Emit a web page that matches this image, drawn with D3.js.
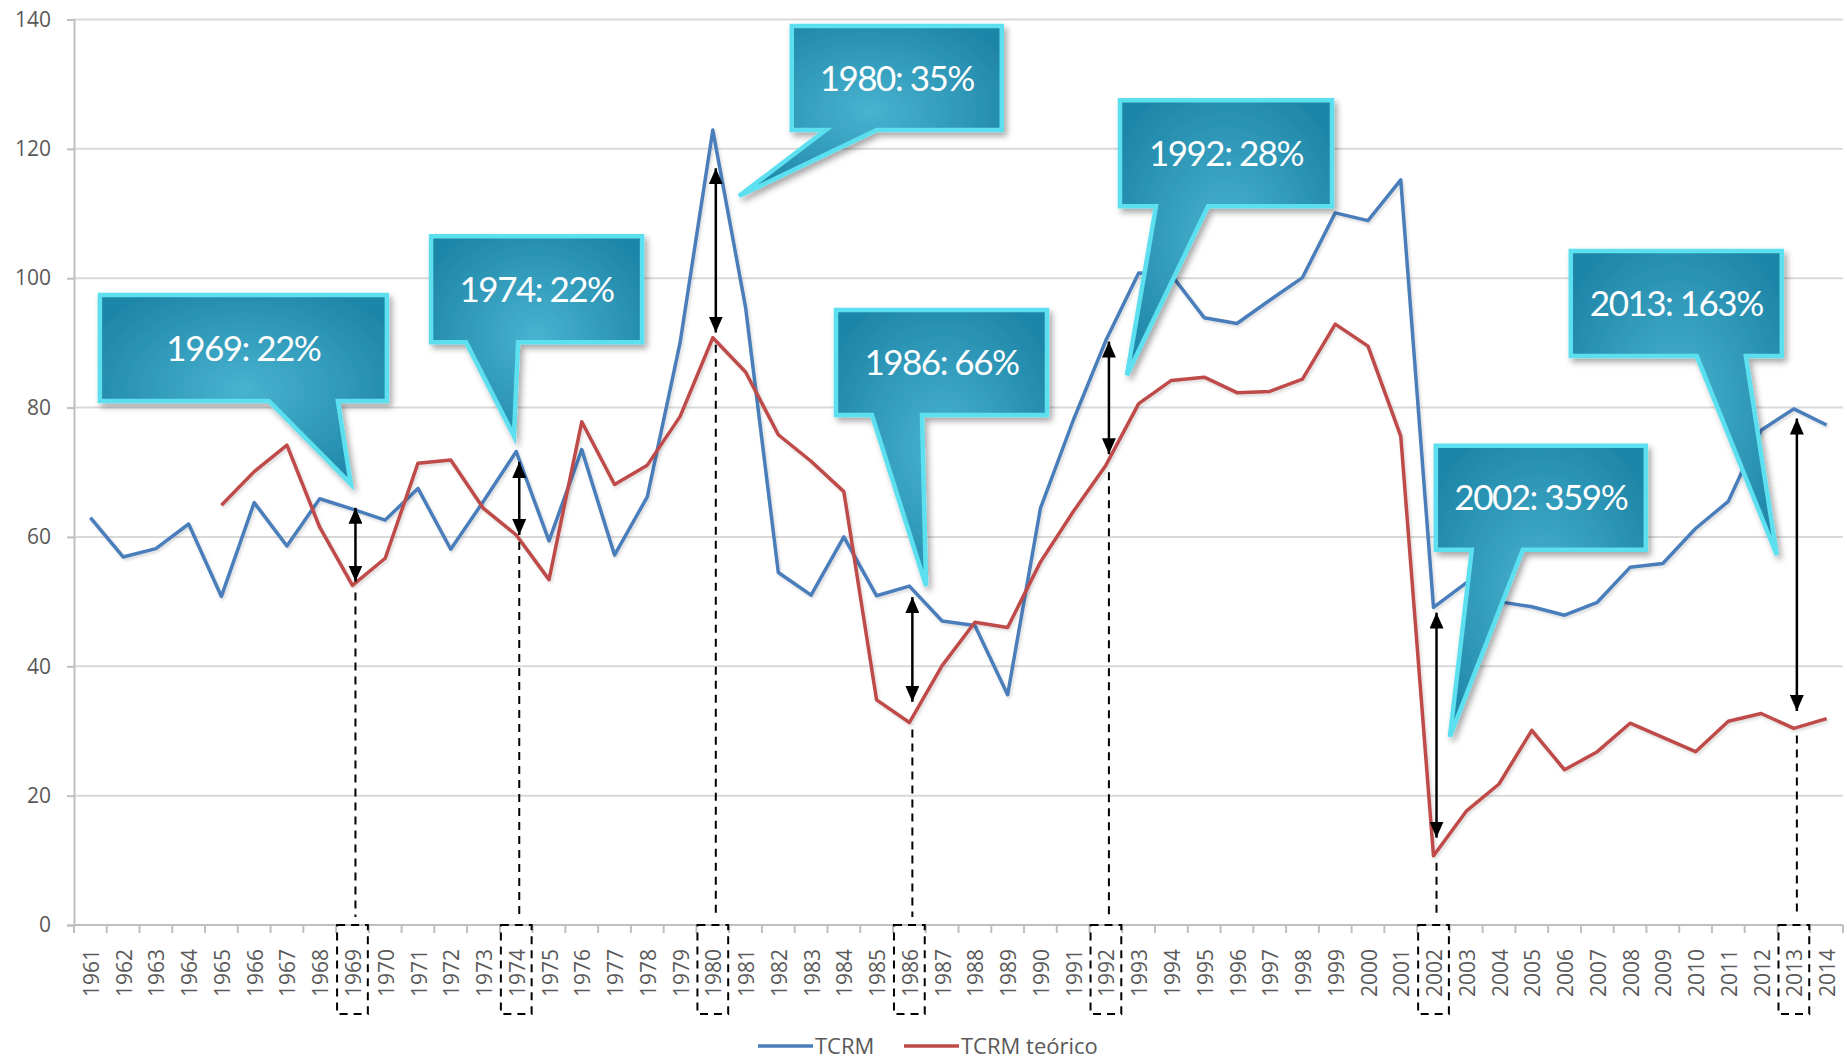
<!DOCTYPE html>
<html>
  <head>
    <meta charset="utf-8">
    <title>TCRM vs TCRM teórico</title>
    <script src="https://d3js.org/d3.v7.min.js"></script>
    <style>
      body { margin: 0; background: #fff; }
      .tick-label { font-family: "Open Sans", sans-serif; font-size: 21px; fill: #595959; }
      .legend text { font-family: "Open Sans", sans-serif; font-size: 22px; fill: #595959; }
      .callout text { font-family: Lato, sans-serif; font-size: 35px; fill: #fff; letter-spacing: -1.5px; }
    </style>
  </head>
  <body>
  <div id="chart"></div>
  <script>

  // data
  var years = d3.range(1961, 2015);
  var tcrm = [63.0, 56.9, 58.2, 62.0, 50.8, 65.3, 58.6, 65.9, 64.3, 62.6,
              67.5, 58.1, 65.5, 73.2, 59.4, 73.5, 57.2, 66.2, 90.0, 122.9,
              95.5, 54.5, 51.0, 60.0, 50.9, 52.4, 47.0, 46.3, 35.6, 64.4,
              78.0, 90.4, 100.8, 100.5, 93.9, 93.0, 96.6, 100.1, 110.1, 108.9,
              115.2, 49.1, 52.9, 50.0, 49.2, 47.9, 49.9, 55.3, 55.9, 61.3,
              65.5, 76.5, 79.8, 77.3];
  var tcrmTeorico = [null, null, null, null, 64.9, 70.1, 74.2, 61.5, 52.5, 56.7,
              71.4, 71.9, 64.4, 60.3, 53.4, 77.8, 68.1, 71.1, 78.6, 90.8,
              85.5, 75.8, 71.7, 67.0, 34.8, 31.3, 40.1, 46.8, 46.0, 56.1,
              63.9, 71.1, 80.6, 84.2, 84.7, 82.3, 82.5, 84.4, 92.9, 89.5,
              75.6, 10.7, 17.6, 21.8, 30.1, 24.0, 26.8, 31.2, 29.0, 26.8,
              31.5, 32.7, 30.4, 31.9];
  var seriesNames = ["TCRM", "TCRM teórico"];
  var seriesColors = ["#4a7ebb", "#be4b48"];
  var yTicks = [0, 20, 40, 60, 80, 100, 120, 140];

  // highlighted years: gap arrows (top / bottom value) and callout labels
  var gapYears = [1969, 1974, 1980, 1986, 1992, 2002, 2013];
  var gapTop = [64.5, 71.6, 117.0, 50.7, 90.2, 48.3, 78.3];
  var gapBottom = [53.1, 60.3, 91.6, 34.5, 72.8, 13.5, 33.1];
  var gapLabels = ["1969: 22%", "1974: 22%", "1980: 35%", "1986: 66%", "1992: 28%", "2002: 359%", "2013: 163%"];

  // callout placement (box corner and pointer tip in year / value units)
  var callouts = [
    { box: [1961.29, 97.4], w: 287, h: 106, base: [169, 238], tip: [1968.95, 68.2] },
    { box: [1971.40, 106.5], w: 211, h: 106, base: [35, 87], tip: [1973.93, 75.6] },
    { box: [1982.41, 139.0], w: 210, h: 104, base: [34, 85], tip: [1980.80, 112.7] },
    { box: [1983.76, 95.1], w: 211, h: 105, base: [36, 86], tip: [1986.51, 52.4] },
    { box: [1992.43, 127.5], w: 212, h: 106, base: [36, 88], tip: [1992.64, 85.0] },
    { box: [2002.07, 74.1], w: 210, h: 104, base: [36, 87], tip: [2002.50, 29.1] },
    { box: [2006.19, 104.2], w: 211, h: 105, base: [126, 175], tip: [2012.48, 57.2] }
  ];

  var width = 1847, height = 1063;
  var plotLeft = 74, plotRight = 1843, plotTop = 19.5, plotBottom = 925;

  var svg = d3.select("#chart").append("svg")
      .attr("width", width)
      .attr("height", height);

  var x = d3.scaleBand().domain(years).range([plotLeft, plotRight]);
  var xc = function(d_){ return x(d_) + x.bandwidth() / 2; };
  var xl = d3.scaleLinear().domain([1961, 2014]).range([xc(1961), xc(2014)]);
  var y = d3.scaleLinear().domain([0, 140]).range([plotBottom, plotTop]);

  var defs = svg.append("defs");

  var grad = defs.append("radialGradient").attr("id", "calloutFill")
      .attr("cx", "50%").attr("cy", "50%").attr("r", "60%");
  grad.append("stop").attr("offset", "0%").attr("stop-color", "#48b3d0");
  grad.append("stop").attr("offset", "100%").attr("stop-color", "#1f86a8");

  defs.append("filter").attr("id", "shadow")
      .attr("x", "-10%").attr("y", "-10%").attr("width", "130%").attr("height", "130%")
    .append("feDropShadow")
      .attr("dx", 3).attr("dy", 4).attr("stdDeviation", 3)
      .attr("flood-color", "#000").attr("flood-opacity", 0.35);

  defs.append("filter").attr("id", "lineShadow")
      .attr("x", "-5%").attr("y", "-5%").attr("width", "110%").attr("height", "110%")
    .append("feDropShadow")
      .attr("dx", 1.5).attr("dy", 2).attr("stdDeviation", 1.5)
      .attr("flood-color", "#000").attr("flood-opacity", 0.15);

  ["arrowStart", "arrowEnd"].forEach(function(id_, i_){
    defs.append("marker")
        .attr("id", id_)
        .attr("markerUnits", "userSpaceOnUse")
        .attr("viewBox", "0 0 14 16")
        .attr("markerWidth", 14).attr("markerHeight", 16)
        .attr("refX", 7).attr("refY", i_ === 0 ? 0 : 16)
        .attr("orient", "0")
      .append("path")
        .attr("d", i_ === 0 ? "M7,0 L14,16 L0,16 Z" : "M0,0 L14,0 L7,16 Z")
        .attr("fill", "#000");
  });

  // gridlines
  svg.append("g").selectAll("line")
      .data(yTicks.filter(function(d_){ return d_ > 0; }))
      .enter().append("line")
      .attr("x1", plotLeft).attr("x2", plotRight)
      .attr("y1", y).attr("y2", y)
      .attr("stroke", "#d9d9d9").attr("stroke-width", 2);

  // y axis
  var yAxis = svg.append("g")
      .attr("transform", "translate(" + plotLeft + ",0)")
      .call(d3.axisLeft(y).tickValues(yTicks).tickSize(7).tickPadding(16));
  yAxis.select(".domain").attr("stroke", "#bfbfbf").attr("stroke-width", 2);
  yAxis.selectAll(".tick line").attr("stroke", "#bfbfbf").attr("stroke-width", 2);
  yAxis.selectAll(".tick text").attr("class", "tick-label").attr("font-size", null).attr("font-family", null).attr("fill", null);
  yAxis.attr("font-size", null).attr("font-family", null);

  // x axis: ticks at band boundaries, rotated labels
  var xAxis = svg.append("g").attr("transform", "translate(0," + plotBottom + ")");
  xAxis.append("line")
      .attr("x1", plotLeft).attr("x2", plotRight)
      .attr("stroke", "#bfbfbf").attr("stroke-width", 2);
  xAxis.selectAll(".xtick")
      .data(years.concat([2015]))
      .enter().append("line")
      .attr("class", "xtick")
      .attr("x1", function(d_){ return d_ === 2015 ? plotRight : x(d_); })
      .attr("x2", function(d_){ return d_ === 2015 ? plotRight : x(d_); })
      .attr("y1", 0).attr("y2", 8)
      .attr("stroke", "#bfbfbf").attr("stroke-width", 2);
  xAxis.selectAll(".xlabel")
      .data(years)
      .enter().append("text")
      .attr("class", "tick-label")
      .attr("text-anchor", "end")
      .attr("transform", function(d_){ return "translate(" + (xc(d_) + 1) + ",24) rotate(-90)"; })
      .attr("dy", "0.36em")
      .text(function(d_){ return d_; });

  // series lines
  var series = [tcrm, tcrmTeorico];
  var line = d3.line()
      .defined(function(d_){ return d_ !== null; })
      .x(function(d_, i_){ return xc(years[i_]); })
      .y(function(d_){ return y(d_); });

  svg.append("g").selectAll("path")
      .data(series)
      .enter().append("path")
      .attr("d", line)
      .attr("fill", "none")
      .attr("stroke", function(d_, i_){ return seriesColors[i_]; })
      .attr("stroke-width", 3.5)
      .attr("stroke-linejoin", "round")
      .attr("filter", "url(#lineShadow)");

  // dashed guides down to the axis and dashed boxes round the year labels
  var guides = svg.append("g");
  guides.selectAll(".guide")
      .data(gapYears)
      .enter().append("line")
      .attr("class", "guide")
      .attr("x1", function(d_){ return xc(d_) + 3; })
      .attr("x2", function(d_){ return xc(d_) + 3; })
      .attr("y1", function(d_){ return y(tcrmTeorico[years.indexOf(d_)]) + 7; })
      .attr("y2", plotBottom - 8)
      .attr("stroke", "#000").attr("stroke-width", 2)
      .attr("stroke-dasharray", "8,6");
  guides.selectAll(".yearbox")
      .data(gapYears)
      .enter().append("rect")
      .attr("class", "yearbox")
      .attr("x", function(d_){ return x(d_) + 1; })
      .attr("y", plotBottom)
      .attr("width", x.bandwidth() - 2)
      .attr("height", 89)
      .attr("fill", "none")
      .attr("stroke", "#000").attr("stroke-width", 2)
      .attr("stroke-dasharray", "8,6");

  // double-headed gap arrows
  svg.append("g").selectAll("line")
      .data(gapYears)
      .enter().append("line")
      .attr("x1", function(d_){ return xc(d_) + 3; })
      .attr("x2", function(d_){ return xc(d_) + 3; })
      .attr("y1", function(d_, i_){ return y(gapTop[i_]); })
      .attr("y2", function(d_, i_){ return y(gapBottom[i_]); })
      .attr("stroke", "#000").attr("stroke-width", 2.5)
      .attr("marker-start", "url(#arrowStart)")
      .attr("marker-end", "url(#arrowEnd)");

  // callouts
  var callout = svg.append("g").selectAll(".callout")
      .data(callouts)
      .enter().append("g")
      .attr("class", "callout");

  callout.append("path")
      .attr("d", function(d_){
        var L = xl(d_.box[0]), T = y(d_.box[1]), B = T + d_.h;
        return "M" + L + "," + T + "H" + (L + d_.w) + "V" + B +
               "H" + (L + d_.base[1]) + "L" + xl(d_.tip[0]) + "," + y(d_.tip[1]) +
               "L" + (L + d_.base[0]) + "," + B + "H" + L + "Z";
      })
      .attr("fill", "url(#calloutFill)")
      .attr("stroke", "#5be0f0")
      .attr("stroke-width", 4.5)
      .attr("stroke-linejoin", "miter")
      .attr("filter", "url(#shadow)");

  callout.append("text")
      .attr("x", function(d_){ return xl(d_.box[0]) + d_.w / 2; })
      .attr("y", function(d_){ return y(d_.box[1]) + d_.h / 2; })
      .attr("dy", "0.36em")
      .attr("text-anchor", "middle")
      .text(function(d_, i_){ return gapLabels[i_]; });

  // legend
  var legendX = [758, 904];
  var legend = svg.append("g").attr("class", "legend")
      .selectAll("g")
      .data(seriesNames)
      .enter().append("g")
      .attr("transform", function(d_, i_){ return "translate(" + legendX[i_] + ",1046)"; });
  legend.append("line")
      .attr("x1", 0).attr("x2", 55)
      .attr("stroke", function(d_, i_){ return seriesColors[i_]; })
      .attr("stroke-width", 3.5);
  legend.append("text")
      .attr("x", 57)
      .attr("dy", "0.36em")
      .text(function(d_){ return d_; });

  </script>
  </body>
</html>
